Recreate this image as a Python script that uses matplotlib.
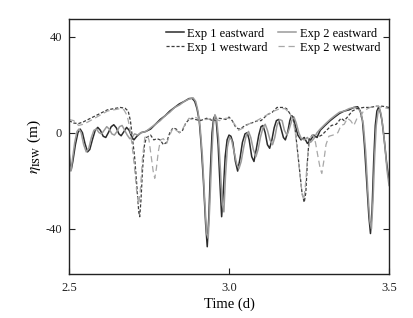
import matplotlib
matplotlib.use("Agg")
import matplotlib.pyplot as plt

# ── Data (time in days, elevation in m) ──
t_e1 = [2.500, 2.503, 2.507, 2.512, 2.520, 2.528, 2.535, 2.542, 2.550, 2.558,
        2.565, 2.573, 2.582, 2.590, 2.598, 2.607, 2.615, 2.623, 2.632, 2.640,
        2.648, 2.656, 2.663, 2.672, 2.680, 2.688, 2.697, 2.703, 2.712, 2.725,
        2.740, 2.755, 2.770, 2.785, 2.800, 2.815, 2.830, 2.845, 2.860, 2.875,
        2.885, 2.893, 2.900, 2.907, 2.913, 2.920, 2.927, 2.932, 2.937, 2.942,
        2.947, 2.952, 2.956, 2.960, 2.966, 2.972, 2.977, 2.982, 2.988, 2.994,
        3.000, 3.006, 3.012, 3.020, 3.027, 3.034, 3.042, 3.050, 3.057, 3.063,
        3.071, 3.078, 3.085, 3.093, 3.100, 3.106, 3.113, 3.120, 3.127, 3.134,
        3.141, 3.148, 3.155, 3.162, 3.170, 3.176, 3.183, 3.190, 3.195, 3.200,
        3.207, 3.215, 3.225, 3.235, 3.245, 3.255, 3.265, 3.275, 3.285, 3.300,
        3.316, 3.330, 3.345, 3.360, 3.375, 3.390, 3.402, 3.410, 3.417, 3.423,
        3.430, 3.437, 3.442, 3.447, 3.452, 3.457, 3.462, 3.467, 3.472, 3.478,
        3.485, 3.492, 3.500]
eta_e1 = [-7, -13, -15.5, -12, -5, 0, 1.5, 0, -4.5, -8,
          -7, -3, 1, 2.2, 1, -1.5, -2, 0, 2.5, 3.3,
          2, -0.5, -1.3, 0.5, 2.2, 1, -2, -3, -1.5, 0,
          0.5, 1.5, 3.5, 5.5, 7, 9, 10.5, 12, 13, 14.2,
          14.3, 13, 10, 5, -5, -20, -38, -47.5, -35, -15,
          0, 6, 7, 5, -5, -22, -35, -25, -10, -3,
          -1, -1.5, -4, -12, -16, -11, -4, -0.5, 0, -3,
          -10, -12, -7, -1, 2.5, 3, 0, -5, -6.5, -3,
          2, 5, 5.5, 2, -2, -3, 0, 5, 7, 6.5,
          3, -1, -3, -2, -4.5, -3, -1, -2, 1, 3,
          5, 6.5, 8, 9, 9.5, 10.5, 10.8, 9, 5, -5,
          -20, -35, -42, -32, -12, 3, 9, 10.5, 9, 5,
          -3, -12, -20]

t_e2 = [2.500, 2.503, 2.506, 2.511, 2.518, 2.525, 2.531, 2.538, 2.546, 2.554,
        2.562, 2.570, 2.578, 2.586, 2.594, 2.602, 2.610, 2.618, 2.626, 2.634,
        2.642, 2.650, 2.658, 2.666, 2.674, 2.682, 2.690, 2.697, 2.705, 2.715,
        2.725, 2.740, 2.755, 2.770, 2.785, 2.800, 2.815, 2.830, 2.845, 2.860,
        2.875, 2.888, 2.896, 2.903, 2.910, 2.917, 2.924, 2.930, 2.935, 2.940,
        2.946, 2.951, 2.956, 2.961, 2.967, 2.973, 2.979, 2.984, 2.989, 2.995,
        3.002, 3.008, 3.016, 3.024, 3.031, 3.038, 3.046, 3.054, 3.061, 3.068,
        3.076, 3.084, 3.091, 3.098, 3.106, 3.113, 3.120, 3.128, 3.136, 3.143,
        3.150, 3.158, 3.166, 3.173, 3.181, 3.188, 3.196, 3.203, 3.210, 3.218,
        3.226, 3.235, 3.245, 3.255, 3.265, 3.275, 3.285, 3.300, 3.316, 3.330,
        3.345, 3.360, 3.375, 3.390, 3.405, 3.413, 3.420, 3.427, 3.434, 3.440,
        3.445, 3.450, 3.455, 3.460, 3.466, 3.471, 3.476, 3.482, 3.488, 3.494,
        3.500]
eta_e2 = [-9, -15, -16, -11, -4, 0.5, 1.5, 0, -5, -8,
          -6.5, -2, 1, 1.5, 0, -0.5, 1, 2.5, 1.5, -0.5,
          -1, 0.5, 2.5, 3, 1, -1, -2.5, -2, -0.5, -1,
          0, 0.5, 2, 3.5, 5, 7, 8.5, 10.5, 11.5, 13,
          14, 14.5, 13, 9, 2, -10, -28, -42, -44, -30,
          -10, 3, 7.5, 6, -2, -15, -30, -33, -18, -6,
          -2, -3, -8, -13, -15, -12, -6, -1, 0.5, -2,
          -7, -10, -7, -2, 2, 3.5, 1, -3, -5, -2,
          3, 5.5, 5, 1, -1, 1.5, 5, 6.5, 4, 0,
          -2.5, -3, -2, -4, -2.5, 0, 1.5, 3.5, 5.5, 7,
          8.5, 9, 10, 10.5, 10, 8, 3, -8, -25, -37,
          -40, -28, -10, 3, 9, 10, 7, 1, -7, -16,
          -22]

t_w1 = [2.500, 2.515, 2.530, 2.545, 2.560, 2.575, 2.590, 2.605, 2.620, 2.640,
        2.660, 2.675, 2.685, 2.692, 2.698, 2.705, 2.712, 2.718, 2.721, 2.725,
        2.730, 2.736, 2.742, 2.755, 2.765, 2.775, 2.785, 2.795, 2.805, 2.815,
        2.825, 2.835, 2.845, 2.855, 2.865, 2.875, 2.885, 2.895, 2.910, 2.930,
        2.950, 2.970, 2.990, 3.000, 3.010, 3.020, 3.030, 3.040, 3.050, 3.070,
        3.090, 3.100, 3.120, 3.135, 3.150, 3.170, 3.180, 3.190, 3.200, 3.205,
        3.212, 3.220, 3.228, 3.235, 3.240, 3.245, 3.250, 3.260, 3.275, 3.290,
        3.305, 3.320, 3.335, 3.350, 3.360, 3.370, 3.385, 3.400, 3.420, 3.440,
        3.460, 3.480, 3.500]
eta_w1 = [5, 4, 3.8, 4.5, 5.5, 6.5, 7.5, 8.5, 9.5, 10,
          10.5, 10.2, 9, 5, -2, -10, -22, -33, -35, -28,
          -15, -5, -2, -1, -3, -2.5, -3, -5, -4, 0,
          2, 1.5, 0, 1, 4, 5.5, 6, 5.5, 5, 6,
          5, 6, 5.5, 6.5, 5, 2.5, 1.5, 2, 3, 4,
          5, 5, 7.5, 8.5, 10.5, 10.5, 10, 8, 6.5, 3,
          -5, -15, -25, -29, -25, -12, -3, -1, -2, -1,
          1, 3, 3.5, 6, 5, 6.5, 9, 10, 10.5, 10.5,
          11, 11, 10.5]

t_w2 = [2.500, 2.515, 2.530, 2.545, 2.560, 2.580, 2.600, 2.620, 2.640, 2.660,
        2.672, 2.682, 2.690, 2.697, 2.705, 2.712, 2.718, 2.723, 2.730, 2.737,
        2.744, 2.750, 2.757, 2.763, 2.768, 2.773, 2.779, 2.786, 2.795, 2.805,
        2.815, 2.825, 2.835, 2.845, 2.855, 2.865, 2.875, 2.885, 2.893, 2.910,
        2.930, 2.950, 2.970, 2.990, 3.000, 3.015, 3.030, 3.045, 3.060, 3.080,
        3.100, 3.120, 3.140, 3.160, 3.175, 3.190, 3.200, 3.207, 3.214, 3.222,
        3.229, 3.234, 3.240, 3.247, 3.254, 3.262, 3.270, 3.278, 3.285, 3.290,
        3.296, 3.303, 3.312, 3.325, 3.340, 3.350, 3.360, 3.370, 3.380, 3.390,
        3.400, 3.410, 3.420, 3.440, 3.460, 3.480, 3.500]
eta_w2 = [5.5, 5, 3, 3.5, 4.5, 6, 7.5, 9, 9.5, 10,
          9.5, 7, 2, -5, -15, -25, -30, -24, -10, -2,
          -1, -3, -10, -16, -19, -15, -8, -3, -2.5, -4.5,
          -1, 2, 1, 0, 1.5, 4, 6, 5.5, 6.5, 5.5,
          5.5, 6, 5, 6, 6, 4, 1, 2, 3.5, 4.5,
          6, 7.5, 9, 10, 10, 8, 5, 0, -8, -18,
          -26, -28, -20, -8, -2, -1, -4, -10, -15, -17,
          -12, -5, -1.5, -1, 0, 3, 3.5, 6, 5, 3,
          6, 6.5, 9, 10.5, 11, 10.5, 10]

labels = ["Exp 1 eastward", "Exp 2 eastward", "Exp 1 westward", "Exp 2 westward"]
x_ticks = [2.5, 3.0, 3.5]
y_ticks = [-40, 0, 40]

plt.rcParams['font.family'] = ['Liberation Serif', 'DejaVu Serif']
plt.rcParams['mathtext.fontset'] = 'stix'

fig = plt.figure(figsize=(4.13, 3.18), dpi=100)
ax = fig.add_axes([0.167, 0.138, 0.775, 0.802])

l1, = ax.plot(t_e1, eta_e1, color='#2b2b2b', lw=1.1, label=labels[0])
l2, = ax.plot(t_e2, eta_e2, color='#9a9a9a', lw=1.1, label=labels[1])
l3, = ax.plot(t_w1, eta_w1, color='#3c3c3c', lw=0.9, ls=(0, (2.5, 1.5)), label=labels[2])
l4, = ax.plot(t_w2, eta_w2, color='#a8a8a8', lw=0.9, ls=(0, (5, 3)), label=labels[3])

ax.set_xlim(2.5, 3.5)
ax.set_ylim(-58.9, 47.3)
ax.set_xticks(x_ticks)
ax.set_xticklabels([f"{v:.1f}" for v in x_ticks])
ax.set_yticks(y_ticks)
ax.set_yticklabels([str(v) for v in y_ticks])
ax.tick_params(direction='in', length=4, width=0.8, labelsize=9,
               right=True, colors='#222222')
ax.tick_params(axis='y', pad=5)
ax.tick_params(axis='x', pad=6)
for sp in ax.spines.values():
    sp.set_color('#222222')
    sp.set_linewidth(1.0)

ax.set_xlabel("Time (d)", fontsize=10.5, labelpad=2.5)
ax.set_ylabel(r"$\eta_{\rm ISW}$ (m)", fontsize=11, labelpad=1.5)

ax.legend(handles=[l1, l3, l2, l4], ncol=2, loc='upper right', frameon=False,
          fontsize=9, handlelength=1.45, handletextpad=0.3, columnspacing=0.8,
          labelspacing=0.15, borderaxespad=0.3)

fig.savefig("out.png", dpi=100, facecolor='white')
